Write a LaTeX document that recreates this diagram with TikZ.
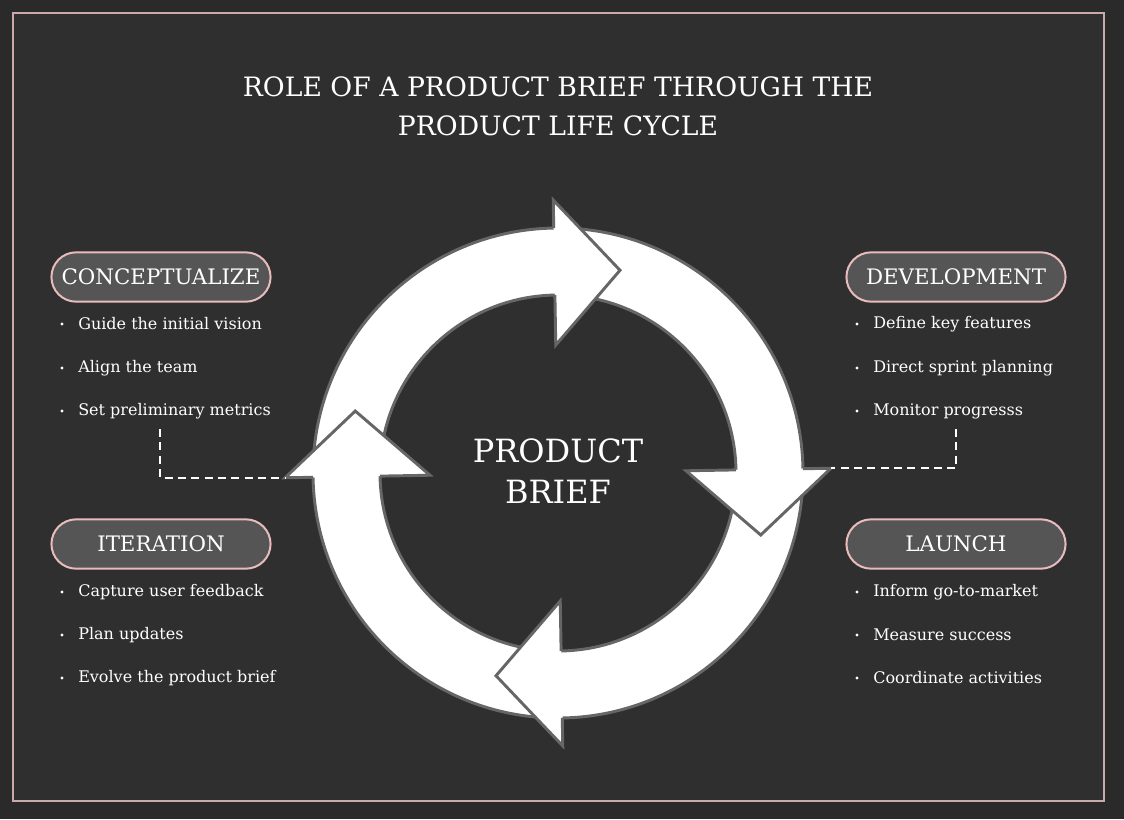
\documentclass[tikz,border=0pt]{standalone}
\usepackage{fontspec}
\setmainfont{DejaVu Serif}
\usetikzlibrary{calc,positioning,shapes.misc}
\definecolor{bg}{HTML}{2F2F2F}
\definecolor{outbg}{HTML}{2A2A2A}
\definecolor{pillfill}{HTML}{555555}
\definecolor{pillline}{HTML}{E8BCBC}
\definecolor{ringline}{HTML}{666666}
\newcommand{\bul}[3]{\node[item] (#1) at (#2) {#3};
  \fill[white] ($(#1.west)+(-16,0)$) circle[radius=1.6];}
\tikzset{
  pill/.style={rounded rectangle, draw=pillline, fill=pillfill, line width=1.5pt,
    minimum width=171pt, minimum height=37pt, text=white, font=\fontsize{16}{18}\selectfont},
  item/.style={anchor=west, text=white, inner sep=0pt, font=\fontsize{12}{14}\selectfont},
  link/.style={draw=white, line width=1.3pt, dash pattern=on 6pt off 4pt},
  ring/.style={draw=ringline, line width=2.2pt}
}
\begin{document}
\begin{tikzpicture}[x=0.75pt,y=-0.75pt]
  \useasboundingbox (0,0) rectangle (1124,819);
  \fill[outbg] (0,0) rectangle (1124,819);
  \fill[bg] (13,13) rectangle (1104,801);
  \draw[pillline!70!gray, line width=0.8pt] (13,13) rectangle (1104,801);
  %title
  \node[text=white, align=center, font=\fontsize{20}{29}\selectfont] (title) at (558,106)
    {ROLE OF A PRODUCT BRIEF THROUGH THE\\PRODUCT LIFE CYCLE};
  %ring
  \coordinate (c) at (558,473);
  \foreach \b in {-91,-1,89,179}{
    \fill[white] ($(c)+(\b-90:245)$) arc[start angle=\b-90, end angle=\b+3, radius=245]
      -- ($(c)+(\b+3:178)$) arc[start angle=\b+3, end angle=\b-90, radius=178] -- cycle;
    \draw[ring] ($(c)+(\b-90:245)$) arc[start angle=\b-90, end angle=\b, radius=245];
    \draw[ring] ($(c)+(\b-90:178)$) arc[start angle=\b-90, end angle=\b, radius=178];
  }
  \foreach \b in {-91,-1,89,179}{
    \fill[white] ($(c)+(\b:178)$) -- ($(c)+(\b:128)$) -- ($(c)+(\b+18:212)$)
      -- ($(c)+(\b:273)$) -- ($(c)+(\b:245)$) -- cycle;
    \draw[ring, line join=miter] ($(c)+(\b:178)$) -- ($(c)+(\b:128)$) -- ($(c)+(\b+18:212)$)
      -- ($(c)+(\b:273)$) -- ($(c)+(\b:245)$);
  }
  \node[text=white, align=center, font=\fontsize{24}{31}\selectfont] (brief) at (558,471)
    {PRODUCT\\BRIEF};
  %stages
  \node[pill] (concept) at (161,277) {CONCEPTUALIZE};
  \node[pill] (iter) at (161,544) {ITERATION};
  \node[pill] (dev) at (956,277) {DEVELOPMENT};
  \node[pill] (launch) at (956,544) {LAUNCH};
  %bullets
  \bul{c1}{78,324}{Guide the initial vision}
  \bul{c2}{78,368}{Align the team}
  \bul{c3}{78,411}{Set preliminary metrics}
  \bul{i1}{78,592}{Capture user feedback}
  \bul{i2}{78,635}{Plan updates}
  \bul{i3}{78,678}{Evolve the product brief}
  \bul{d1}{873,324}{Define key features}
  \bul{d2}{873,368}{Direct sprint planning}
  \bul{d3}{873,411}{Monitor progresss}
  \bul{l1}{873,592}{Inform go-to-market}
  \bul{l2}{873,635}{Measure success}
  \bul{l3}{873,678}{Coordinate activities}
  %links
  \coordinate (lend) at ($(c)+(179:273)$);
  \coordinate (rend) at ($(c)+(-1:273)$);
  \draw[link] (c3.south west -| 160,0) ++(0,10) |- (lend);
  \draw[link] (d3.south west -| 956,0) ++(0,10) |- (rend);
\end{tikzpicture}
\end{document}
